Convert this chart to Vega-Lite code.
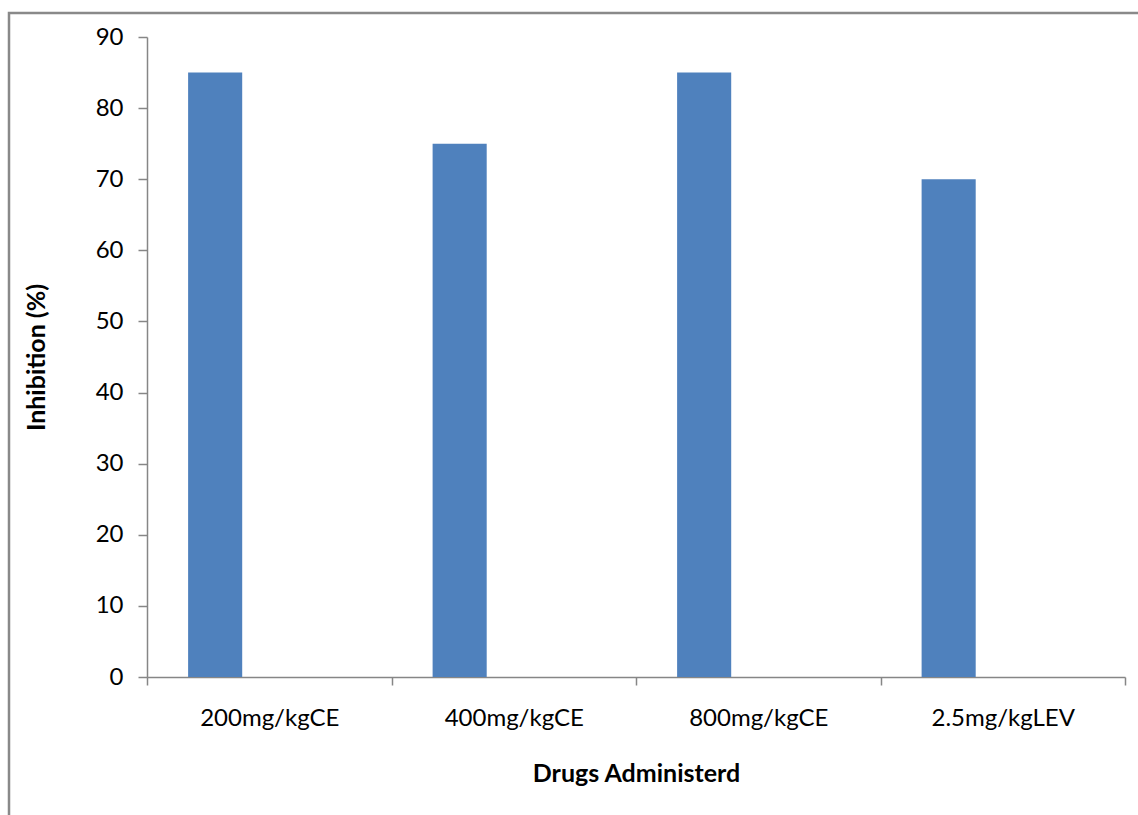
{
  "$schema": "https://vega.github.io/schema/vega-lite/v6.json",
  "autosize": {"type": "none"},
  "padding": {"left": 9, "top": 13, "right": -31, "bottom": -28},
  "width": 1160,
  "height": 830,
  "background": "white",
  "config": {
    "view": {"stroke": "#898989", "strokeWidth": 2.5},
    "font": "Lato"
  },
  "data": {
    "values": [
      {"drug": "200mg/kgCE", "series": "Series1", "inhibition": 85},
      {"drug": "400mg/kgCE", "series": "Series1", "inhibition": 75},
      {"drug": "800mg/kgCE", "series": "Series1", "inhibition": 85},
      {"drug": "2.5mg/kgLEV", "series": "Series1", "inhibition": 70}
    ]
  },
  "mark": {"type": "bar", "color": "#4F81BD"},
  "encoding": {
    "x": {
      "field": "drug",
      "type": "nominal",
      "sort": null,
      "scale": {"range": [138, 1116], "paddingInner": 0, "paddingOuter": 0},
      "axis": {
        "title": "Drugs Administerd",
        "offset": -166,
        "tickBand": "extent",
        "labelAngle": 0,
        "domainColor": "#868686",
        "domainWidth": 1.5,
        "tickColor": "#868686",
        "tickWidth": 1.5,
        "tickSize": 8,
        "labelFont": "Lato",
        "labelFontSize": 24,
        "labelColor": "#000000",
        "labelPadding": 21,
        "titleFont": "Lato",
        "titleFontSize": 25,
        "titleFontWeight": "bold",
        "titleColor": "#000000",
        "titlePadding": 31
      }
    },
    "xOffset": {
      "field": "series",
      "type": "nominal",
      "scale": {"domain": ["Series1", "Series2", "Series3"], "paddingOuter": 0.76, "paddingInner": 0}
    },
    "y": {
      "field": "inhibition",
      "type": "quantitative",
      "scale": {"domain": [0, 90], "range": [664, 24], "nice": false},
      "axis": {
        "title": "Inhibition (%)",
        "offset": -138,
        "values": [0, 10, 20, 30, 40, 50, 60, 70, 80, 90],
        "grid": false,
        "domainColor": "#868686",
        "domainWidth": 1.5,
        "tickColor": "#868686",
        "tickWidth": 1.5,
        "tickSize": 9,
        "labelFont": "Lato",
        "labelFontSize": 24,
        "labelColor": "#000000",
        "labelPadding": 15,
        "titleFont": "Lato",
        "titleFontSize": 25,
        "titleFontWeight": "bold",
        "titleColor": "#000000",
        "titlePadding": 46
      }
    }
  }
}
